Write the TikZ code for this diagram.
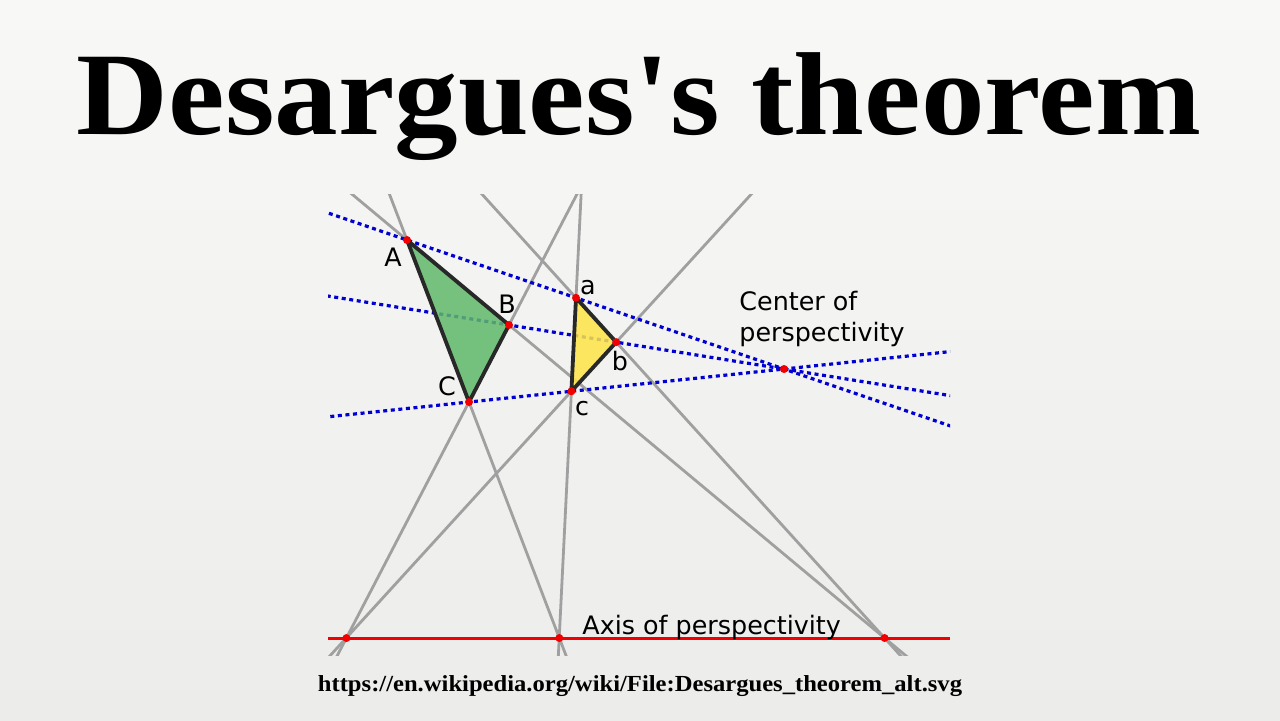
\documentclass[tikz,border=0pt]{standalone}
\usepackage{fontspec}
\usepackage{graphicx}
\setmainfont{Liberation Serif}[Ligatures=TeXOff]
\newfontfamily\dv{DejaVu Sans}
\usetikzlibrary{calc}
\definecolor{bgtop}{RGB}{248,248,246}
\definecolor{bgbot}{RGB}{236,236,234}
\definecolor{grayline}{RGB}{160,160,160}
\definecolor{dotblue}{RGB}{0,0,210}
\definecolor{trigreen}{RGB}{95,185,105}
\definecolor{triyellow}{RGB}{255,228,70}
\definecolor{edgecol}{RGB}{40,40,40}
\definecolor{ptred}{RGB}{240,0,0}
\begin{document}
\begin{tikzpicture}[x=0.5pt,y=-0.5pt,
  sideline/.style={draw=grayline,line width=1.4pt},
  perspline/.style={draw=dotblue,line width=1.6pt,dash pattern=on 2pt off 1.8pt},
  tri/.style={draw=edgecol,line width=1.9pt,line join=round,fill opacity=0.85},
  pt/.style={fill=ptred},
  lbl/.style={font=\dv\fontsize{12.7}{15}\selectfont,inner sep=0pt},
  axisline/.style={draw=ptred,line width=1.5pt},
]
\shade[top color=bgtop,bottom color=bgbot] (0,0) rectangle (1280,720);
\useasboundingbox (0,0) rectangle (1280,720);
\node[font=\bfseries\fontsize{59}{66}\selectfont, anchor=base, inner sep=0pt] (title) at (639,134) {\scalebox{1.078}[1]{Desargues's theorem}};
\node[font=\bfseries\fontsize{11.5}{13}\selectfont, anchor=base, inner sep=0pt] (url) at (640,691) {\scalebox{1.07}[1]{https://en.wikipedia.org/wiki/File:Desargues\_theorem\_alt.svg}};

\coordinate (O) at (784,369);
\coordinate (A) at (407,240);
\coordinate (B) at (509,325);
\coordinate (C) at (469,402);
\coordinate (a) at ($(A)!0.4483!(O)$);
\coordinate (L) at (0,638);
\coordinate (R) at (1280,638);
\coordinate (Xab) at (intersection of A--B and L--R);
\coordinate (Xac) at (intersection of A--C and L--R);
\coordinate (b) at (intersection of O--B and a--Xab);
\coordinate (c) at (intersection of O--C and a--Xac);
\coordinate (Xbc) at (intersection of B--C and L--R);
\coordinate (axL) at (328,638);
\coordinate (axR) at (950,638);

% side lines
\begin{scope}
\clip (0,194) rectangle (1280,655);
\draw[sideline] ($(A)!-10!(B)$) -- ($(A)!10!(B)$);
\draw[sideline] ($(A)!-10!(C)$) -- ($(A)!10!(C)$);
\draw[sideline] ($(B)!-10!(C)$) -- ($(B)!10!(C)$);
\draw[sideline] ($(a)!-10!(b)$) -- ($(a)!10!(b)$);
\draw[sideline] ($(a)!-10!(c)$) -- ($(a)!10!(c)$);
\draw[sideline] ($(b)!-10!(c)$) -- ($(b)!10!(c)$);
\end{scope}

% lines through the center
\begin{scope}
\clip (328,0) rectangle (950,720);
\draw[perspline] ($(O)!3!(A)$) -- ($(O)!-3!(A)$);
\draw[perspline] ($(O)!3!(B)$) -- ($(O)!-3!(B)$);
\draw[perspline] ($(O)!3!(C)$) -- ($(O)!-3!(C)$);
\end{scope}

% triangles
\filldraw[tri, fill=trigreen] (A) -- (B) -- (C) -- cycle;
\filldraw[tri, fill=triyellow] (a) -- (b) -- (c) -- cycle;

% axis
\draw[axisline] (axL) -- (axR);

% points
\foreach \p in {A,B,C,a,b,c,O,Xab,Xac,Xbc}
  \fill[pt] (\p) circle[radius=2pt];

% labels
\node[lbl, anchor=base] (lA) at (393,266) {A};
\node[lbl, anchor=base] (lB) at (507,313) {B};
\node[lbl, anchor=base] (lC) at (447,395) {C};
\node[lbl, anchor=base] (la) at (588,294) {a};
\node[lbl, anchor=base] (lb) at (620,370) {b};
\node[lbl, anchor=base] (lc) at (582,415) {c};
\node[lbl, anchor=base west] (lcen1) at (739,310) {Center of};
\node[lbl, anchor=base west] (lcen2) at (739,341) {perspectivity};
\node[lbl, anchor=base west] (lax) at (582,634) {Axis of perspectivity};
\end{tikzpicture}
\end{document}
